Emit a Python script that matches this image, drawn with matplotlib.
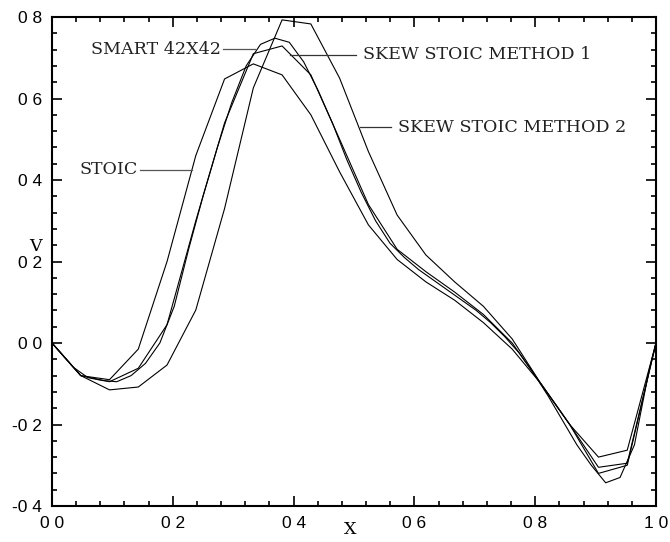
import numpy as np
import matplotlib
matplotlib.use("Agg")
import matplotlib.pyplot as plt
import matplotlib.ticker as ticker

# grid for the 21-cell runs
x21 = np.arange(22) / 21.0

stoic = [0.0, -0.08, -0.09, -0.015, 0.20, 0.46, 0.648, 0.685, 0.658, 0.56,
         0.42, 0.29, 0.205, 0.15, 0.105, 0.05, -0.015, -0.10, -0.20, -0.32,
         -0.30, 0.0]
skew1 = [0.0, -0.08, -0.095, -0.062, 0.045, 0.30, 0.54, 0.71, 0.729, 0.658,
         0.50, 0.34, 0.23, 0.175, 0.125, 0.07, 0.0, -0.10, -0.20, -0.305,
         -0.295, 0.0]
skew2 = [0.0, -0.08, -0.115, -0.108, -0.054, 0.081, 0.33, 0.626, 0.793,
         0.783, 0.65, 0.47, 0.314, 0.216, 0.15, 0.09, 0.01, -0.10, -0.20,
         -0.28, -0.263, 0.0]

# SMART 42x42 is cell centred, with the wall values added at both ends
x42 = np.concatenate([[0.0], (np.arange(42) + 0.5) / 42.0, [1.0]])
smart = [0.0, -0.02, -0.06, -0.085, -0.092, -0.095, -0.08, -0.05, 0.0, 0.09,
         0.23, 0.36, 0.48, 0.59, 0.68, 0.733, 0.748, 0.738, 0.69, 0.62, 0.54,
         0.45, 0.37, 0.30, 0.245, 0.21, 0.18, 0.155, 0.13, 0.105, 0.08, 0.05,
         0.015, -0.025, -0.075, -0.13, -0.19, -0.25, -0.30, -0.343, -0.33,
         -0.25, -0.07, 0.0]

x_ticks = [0.0, 0.2, 0.4, 0.6, 0.8, 1.0]
y_ticks = [-0.4, -0.2, 0.0, 0.2, 0.4, 0.6, 0.8]

# label text, text anchor (x, y), leader line end x
labels = [
    ("SMART 42X42", 0.280, 0.721, 0.336, "right"),
    ("SKEW STOIC METHOD 1", 0.515, 0.707, 0.394, "left"),
    ("SKEW STOIC METHOD 2", 0.573, 0.530, 0.510, "left"),
    ("STOIC", 0.142, 0.425, 0.232, "right"),
]

fig = plt.figure(figsize=(6.7, 5.42), dpi=100)
ax = fig.add_axes([0.0776, 0.0664, 0.9015, 0.9022])

for xs, ys in [(x21, stoic), (x21, skew1), (x21, skew2), (x42, smart)]:
    ax.plot(xs, ys, color="black", lw=0.8)

serif = "DejaVu Serif"
for text, tx, ty, lx, ha in labels:
    if ha == "right":
        ax.plot([tx + 0.003, lx], [ty, ty], color="#555555", lw=0.9)
    else:
        ax.plot([lx, tx - 0.012], [ty, ty], color="#333333", lw=0.9)
    ax.text(tx, ty, text, ha=ha, va="center", family=serif, fontsize=12.6,
            color="#222222")

ax.set_xlim(0, 1)
ax.set_ylim(-0.4, 0.8)
ax.set_xticks(x_ticks)
ax.set_yticks(y_ticks)
ax.xaxis.set_minor_locator(ticker.MultipleLocator(0.04))
ax.yaxis.set_minor_locator(ticker.MultipleLocator(0.04))

fmt = ticker.FuncFormatter(lambda v, pos: f"{v:.1f}".replace(".", " "))
ax.xaxis.set_major_formatter(fmt)
ax.yaxis.set_major_formatter(fmt)

ax.tick_params(which="both", direction="in", top=True, right=True,
               width=1.2, labelsize=12.5)
ax.tick_params(which="major", length=7, pad=7)
ax.tick_params(which="minor", length=3.6)
for lab in ax.get_xticklabels() + ax.get_yticklabels():
    lab.set_family("Liberation Sans")
for s in ax.spines.values():
    s.set_linewidth(1.5)

fig.text(350 / 670, 1 - 530 / 542, "X", ha="center", va="center",
         family=serif, fontsize=12.6)
fig.text(35 / 670, 1 - 246 / 542, "V", ha="center", va="center",
         family=serif, fontsize=12.6)

fig.savefig("out.png", dpi=100)
